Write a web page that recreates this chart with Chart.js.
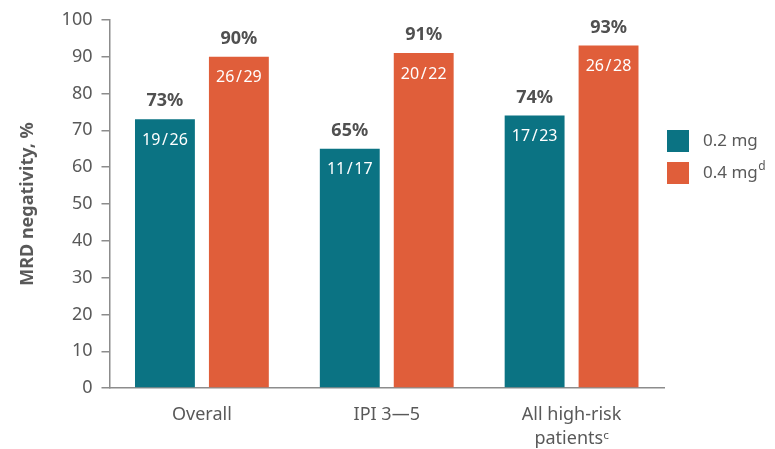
<!DOCTYPE html>
<html>
<head>
<meta charset="utf-8">
<style>
  html, body { margin: 0; padding: 0; background: #fff; }
  #wrap { position: relative; width: 775px; height: 449px; }
</style>
<script src="https://cdn.jsdelivr.net/npm/chart.js@4/dist/chart.umd.min.js"></script>
</head>
<body>
<div id="wrap"><canvas id="chart" width="775" height="449"></canvas></div>
<script>
// data
var categories = ['Overall', 'IPI 3\u20145', ['All high-risk', 'patients\u1D9C']];
var seriesNames = ['0.2 mg', '0.4 mg'];
var seriesSup = ['', 'd'];
var dose02 = [73, 65, 74];
var dose04 = [90, 91, 93];
var ratio02 = ['19 / 26', '11 / 17', '17 / 23'];
var ratio04 = ['26 / 29', '20 / 22', '26 / 28'];
var yTicks = [0, 10, 20, 30, 40, 50, 60, 70, 80, 90, 100];

var TEAL = '#0b7383';
var ORANGE = '#e05e3a';
var FONT = "'Noto Sans', sans-serif";

// labels on and above the bars
var barLabels = {
    id: 'barLabels',
    afterDatasetsDraw: function (chart) {
        var ctx = chart.ctx;
        var ratios = [ratio02, ratio04];
        ctx.save();
        ctx.textAlign = 'center';
        ctx.textBaseline = 'middle';
        chart.data.datasets.forEach(function (ds, di) {
            var meta = chart.getDatasetMeta(di);
            meta.data.forEach(function (bar, i) {
                ctx.fillStyle = '#505050';
                ctx.font = 'bold 18px ' + FONT;
                ctx.fillText(ds.data[i] + '%', bar.x, bar.y - 18);
                ctx.fillStyle = '#ffffff';
                ctx.font = '16px ' + FONT;
                ctx.fillText(ratios[di][i].replace(/ /g, '\u200A'), bar.x, bar.y + 21);
            });
        });
        ctx.restore();
    }
};

// legend on the right, with superscript
var sideLegend = {
    id: 'sideLegend',
    afterDraw: function (chart) {
        var ctx = chart.ctx;
        var x = chart.chartArea.right + 3;
        ctx.save();
        ctx.textBaseline = 'middle';
        ctx.textAlign = 'left';
        chart.data.datasets.forEach(function (ds, di) {
            var y = 130 + di * 32;
            ctx.fillStyle = ds.backgroundColor;
            ctx.fillRect(x, y, 22, 22);
            ctx.fillStyle = '#595959';
            ctx.font = '17px ' + FONT;
            ctx.fillText(ds.label, x + 36, y + 11);
            if (seriesSup[di]) {
                var w = ctx.measureText(ds.label).width;
                ctx.font = '12px ' + FONT;
                ctx.fillText(seriesSup[di], x + 36.5 + w, y + 5);
            }
        });
        ctx.restore();
    }
};

new Chart(document.getElementById('chart'), {
    type: 'bar',
    data: {
        labels: categories,
        datasets: [{
            label: seriesNames[0],
            data: dose02,
            backgroundColor: TEAL,
            categoryPercentage: 0.8,
            barPercentage: 0.81
        }, {
            label: seriesNames[1],
            data: dose04,
            backgroundColor: ORANGE,
            categoryPercentage: 0.8,
            barPercentage: 0.81
        }]
    },
    options: {
        responsive: false,
        animation: false,
        layout: { padding: { top: 3, right: 111, left: 17, bottom: -17 } },
        plugins: {
            legend: { display: false },
            tooltip: { enabled: false }
        },
        scales: {
            x: {
                grid: { display: false, drawTicks: false },
                border: { color: '#8c8c8c', width: 1.5 },
                ticks: {
                    color: '#595959',
                    font: { family: FONT, size: 18, lineHeight: 1.33 },
                    padding: 15
                }
            },
            y: {
                min: 0,
                max: 100,
                afterBuildTicks: function (axis) {
                    axis.ticks = yTicks.map(function (v) { return { value: v }; });
                },
                grid: {
                    display: true,
                    drawOnChartArea: false,
                    drawTicks: true,
                    tickLength: 8,
                    color: '#8c8c8c',
                    lineWidth: 1.5
                },
                border: { color: '#8c8c8c', width: 1.5 },
                ticks: {
                    color: '#595959',
                    font: { family: FONT, size: 18 },
                    padding: 9
                },
                title: {
                    display: true,
                    text: 'MRD negativity, %',
                    color: '#595959',
                    font: { family: FONT, size: 18, weight: 'bold' },
                    padding: { top: 0, bottom: 14 }
                }
            }
        }
    },
    plugins: [barLabels, sideLegend]
});
</script>
</body>
</html>
